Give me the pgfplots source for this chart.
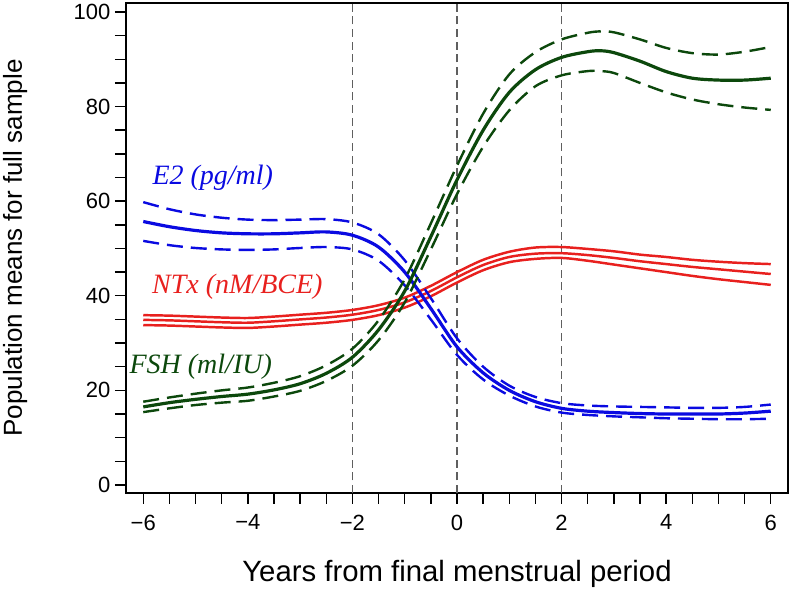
\documentclass[border=0pt]{standalone}
\usepackage{pgfplots}
\pgfplotsset{compat=1.18}
\usepackage{fontspec}
\setmainfont{Liberation Sans}
\newfontfamily\serifit{Liberation Serif}
\definecolor{cblue}{RGB}{10,10,225}
\definecolor{cred}{RGB}{232,32,30}
\definecolor{cgreen}{RGB}{12,72,12}
\definecolor{cgrey}{RGB}{95,95,95}
\begin{document}
\begin{tikzpicture}
\begin{axis}[
  scale only axis, width=496.5pt, height=367.5pt,
  xmin=-6.33, xmax=6.33, ymin=-1.7, ymax=101.9,
  axis line style={line width=1.1pt},
  xtick={-6,-4,...,6}, xticklabels={−6,−4,−2,0,2,4,6},
  ytick={0,20,...,100}, yticklabels={0,20,40,60,80,100},
  minor x tick num=3, minor y tick num=3,
  tick align=outside, xtick pos=bottom, ytick pos=left,
  major tick length=8.25pt, minor tick length=8.25pt,
  every tick/.style={black, line width=1.1pt},
  tick label style={font=\fontsize{16.5}{18}\selectfont},
  xticklabel style={yshift=-4.5pt},
  xlabel={Years from final menstrual period},
  ylabel={Population means for full sample},
  xlabel style={font=\fontsize{22}{24}\selectfont, at={(axis description cs:0.5,-0.1816)}, anchor=base},
  ylabel style={font=\fontsize{19.5}{22}\selectfont, at={(axis description cs:-0.1571,0.5)}, anchor=base},
  clip=false,
]
% reference lines
\addplot[cgrey, line width=1.1pt, dash pattern=on 6pt off 3.5pt] coordinates {(-2,-1.7) (-2,101.9)};
\addplot[cgrey, line width=1.1pt, dash pattern=on 6pt off 3.5pt] coordinates {(0,-1.7) (0,101.9)};
\addplot[cgrey, line width=1.1pt, dash pattern=on 6pt off 3.5pt] coordinates {(2,-1.7) (2,101.9)};

% NTx (red), three solid lines
\addplot[cred, line width=1.85pt, smooth] coordinates {
(-6,35.9) (-5.5,35.8) (-5,35.6) (-4.5,35.4) (-4,35.3) (-3.5,35.6) (-3,36.0) (-2.5,36.4) (-2,37.0)
(-1.5,38.0) (-1,39.6) (-0.5,42.1) (0,45.0) (0.5,47.6) (1,49.3) (1.5,50.2) (2,50.3) (2.5,49.9)
(3,49.4) (3.5,48.7) (4,48.2) (4.5,47.6) (5,47.2) (5.5,46.9) (6,46.7)};
\addplot[cred, line width=1.85pt, smooth] coordinates {
(-6,34.9) (-5.5,34.8) (-5,34.6) (-4.5,34.4) (-4,34.3) (-3.5,34.6) (-3,35.0) (-2.5,35.4) (-2,36.0)
(-1.5,37.0) (-1,38.6) (-0.5,41.0) (0,43.9) (0.5,46.5) (1,48.2) (1.5,48.9) (2,49.0) (2.5,48.6)
(3,48.0) (3.5,47.3) (4,46.7) (4.5,46.1) (5,45.6) (5.5,45.1) (6,44.6)};
\addplot[cred, line width=1.85pt, smooth] coordinates {
(-6,33.8) (-5.5,33.7) (-5,33.5) (-4.5,33.3) (-4,33.2) (-3.5,33.5) (-3,33.9) (-2.5,34.3) (-2,34.9)
(-1.5,35.9) (-1,37.5) (-0.5,39.9) (0,42.8) (0.5,45.4) (1,47.1) (1.5,47.8) (2,48.0) (2.5,47.4)
(3,46.6) (3.5,45.8) (4,45.0) (4.5,44.2) (5,43.5) (5.5,42.9) (6,42.3)};

% E2 (blue)
\addplot[cblue, line width=1.8pt, smooth, dash pattern=on 12pt off 6pt] coordinates {
(-6,59.8) (-5.5,58.3) (-5,57.2) (-4.5,56.5) (-4,56.1) (-3.5,56.0) (-3,56.1) (-2.5,56.2) (-2,55.5)
(-1.5,53.0) (-1,47.5) (-0.5,39.5) (0,31.0) (0.5,25.0) (1,21.0) (1.5,18.6) (2,17.3) (2.5,16.8)
(3,16.6) (3.5,16.5) (4,16.4) (4.5,16.3) (5,16.3) (5.5,16.5) (6,17.0)};
\addplot[cblue, line width=2.4pt, smooth] coordinates {
(-6,55.7) (-5.5,54.6) (-5,53.8) (-4.5,53.3) (-4,53.1) (-3.5,53.1) (-3,53.3) (-2.5,53.5) (-2,52.8)
(-1.5,50.3) (-1,45.0) (-0.5,37.3) (0,29.2) (0.5,23.7) (1,20.0) (1.5,17.6) (2,16.2) (2.5,15.6)
(3,15.3) (3.5,15.1) (4,15.0) (4.5,15.0) (5,15.0) (5.5,15.2) (6,15.6)};
\addplot[cblue, line width=1.8pt, smooth, dash pattern=on 12pt off 6pt] coordinates {
(-6,51.6) (-5.5,50.7) (-5,50.1) (-4.5,49.8) (-4,49.7) (-3.5,49.8) (-3,50.1) (-2.5,50.3) (-2,49.8)
(-1.5,47.4) (-1,42.2) (-0.5,35.0) (0,27.5) (0.5,22.3) (1,18.9) (1.5,16.6) (2,15.3) (2.5,14.8)
(3,14.5) (3.5,14.3) (4,14.1) (4.5,14.0) (5,13.9) (5.5,13.9) (6,14.0)};

% FSH (green)
\addplot[cgreen, line width=1.8pt, smooth, dash pattern=on 12pt off 6pt] coordinates {
(-6,17.6) (-5.5,18.5) (-5,19.3) (-4.5,20.0) (-4,20.6) (-3.5,21.6) (-3,23.0) (-2.5,25.3) (-2,28.8)
(-1.5,34.8) (-1,43.5) (-0.5,55.3) (0,67.5) (0.5,78.5) (1,86.8) (1.5,91.5) (2,94.2) (2.5,95.6)
(2.75,95.9) (3,95.7) (3.5,94.2) (4,92.4) (4.5,91.3) (5,91.0) (5.5,91.6) (6,92.6)};
\addplot[cgreen, line width=2.4pt, smooth] coordinates {
(-6,16.5) (-5.5,17.4) (-5,18.1) (-4.5,18.7) (-4,19.2) (-3.5,20.1) (-3,21.4) (-2.5,23.6) (-2,27.0)
(-1.5,32.8) (-1,41.0) (-0.5,52.5) (0,64.5) (0.5,75.0) (1,83.0) (1.5,87.8) (2,90.4) (2.5,91.6)
(2.75,91.8) (3,91.4) (3.5,89.6) (4,87.4) (4.5,86.0) (5,85.6) (5.5,85.6) (6,86.0)};
\addplot[cgreen, line width=1.8pt, smooth, dash pattern=on 12pt off 6pt] coordinates {
(-6,15.4) (-5.5,16.2) (-5,16.9) (-4.5,17.4) (-4,17.8) (-3.5,18.7) (-3,19.9) (-2.5,22.0) (-2,25.2)
(-1.5,30.6) (-1,38.6) (-0.5,49.8) (0,61.5) (0.5,71.5) (1,79.2) (1.5,84.3) (2,86.6) (2.5,87.5)
(2.75,87.5) (3,87.1) (3.5,85.0) (4,83.0) (4.5,81.5) (5,80.5) (5.5,79.8) (6,79.3)};

% labels
\node[font=\serifit\itshape\fontsize{21}{23}\selectfont, text=cblue] at (axis cs:-4.67,64.9) {E2 (pg/ml)};
\node[font=\serifit\itshape\fontsize{21}{23}\selectfont, text=cred] at (axis cs:-4.2,41.9) {NTx (nM/BCE)};
\node[font=\serifit\itshape\fontsize{21}{23}\selectfont, text=cgreen] at (axis cs:-4.9,25.0) {FSH (ml/IU)};
\end{axis}
\pgfresetboundingbox
\path ([xshift=-94.5pt,yshift=-74.25pt]current axis.south west) rectangle ([xshift=3.75pt,yshift=2.25pt]current axis.north east);
\end{tikzpicture}
\end{document}
